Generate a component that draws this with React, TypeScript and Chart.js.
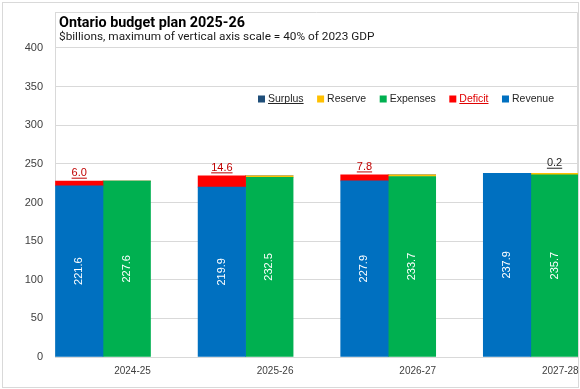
import React, { useEffect, useRef } from 'react';
import { Chart, registerables } from 'chart.js';

Chart.register(...registerables);

// ---- data ----
const categories = ['2024-25', '2025-26', '2026-27', '2027-28'];
const revenue = [221.6, 219.9, 227.9, 237.9];
const deficit = [6.0, 14.6, 7.8, 0];
const expenses = [227.6, 232.5, 233.7, 235.7];
const reserve = [0, 2.0, 2.0, 2.0];
const surplus = [0, 0, 0, 0.2];
const yTicks = [0, 50, 100, 150, 200, 250, 300, 350, 400];

const TITLE = 'Ontario budget plan 2025-26';
const SUBTITLE = '$billions, maximum of vertical axis scale = 40% of 2023 GDP';

const COLORS = {
  revenue: '#0070C0',
  deficit: '#FF0000',
  expenses: '#00B050',
  reserve: '#FFC000',
  surplus: '#1F4E79',
};

const legendItems = [
  { label: 'Surplus', color: COLORS.surplus, text: '#262626', underline: true },
  { label: 'Reserve', color: COLORS.reserve, text: '#262626', underline: false },
  { label: 'Expenses', color: COLORS.expenses, text: '#262626', underline: false },
  { label: 'Deficit', color: COLORS.deficit, text: '#E00000', underline: true },
  { label: 'Revenue', color: COLORS.revenue, text: '#262626', underline: false },
];

const FONT = '"Liberation Sans", Arial, sans-serif';

const toPoints = (arr: number[]) => arr.map((v, i) => ({ x: i, y: v }));

function fitSize(ctx: CanvasRenderingContext2D, text: string, weight: string, family: string, target: number) {
  ctx.font = `${weight} 20px ${family}`;
  const w = ctx.measureText(text).width;
  return (20 * target) / w;
}

const framePlugin = {
  id: 'frame',
  beforeDraw(chart: any) {
    const { ctx, width, height } = chart;
    ctx.save();
    ctx.fillStyle = '#ffffff';
    ctx.fillRect(0, 0, width, height);
    ctx.strokeStyle = '#d9d9d9';
    ctx.lineWidth = 1;
    ctx.strokeRect(2.5, 2.5, width - 4, height - 4);
    ctx.restore();
  },
  beforeDatasetsDraw(chart: any) {
    const { ctx, chartArea } = chart;
    ctx.save();
    ctx.strokeStyle = '#d9d9d9';
    ctx.lineWidth = 1;
    ctx.beginPath();
    ctx.moveTo(chartArea.left, chartArea.top + 0.5);
    ctx.lineTo(chartArea.right - 0.5, chartArea.top + 0.5);
    ctx.lineTo(chartArea.right - 0.5, chartArea.bottom);
    ctx.stroke();
    ctx.restore();
  },
  afterDraw(chart: any) {
    const { ctx, chartArea } = chart;
    ctx.save();
    // title
    const tSize = fitSize(ctx, TITLE, 'bold', 'Roboto', 186);
    ctx.font = `bold ${tSize}px Roboto`;
    ctx.fillStyle = '#000000';
    ctx.textAlign = 'left';
    ctx.textBaseline = 'alphabetic';
    ctx.fillText(TITLE, chartArea.left + 4, chartArea.top + 15);
    const sSize = fitSize(ctx, SUBTITLE, 'normal', 'Roboto', 316);
    ctx.font = `normal ${sSize}px Roboto`;
    ctx.fillStyle = '#1a1a1a';
    ctx.fillText(SUBTITLE, chartArea.left + 4, chartArea.top + 27.5);

    // legend
    ctx.font = `10.5px ${FONT}`;
    let x = 258;
    const baseY = 102;
    for (const it of legendItems) {
      ctx.fillStyle = it.color;
      ctx.fillRect(x, baseY - 6.5, 7, 7);
      x += 10;
      ctx.fillStyle = it.text;
      ctx.fillText(it.label, x, baseY);
      const w = ctx.measureText(it.label).width;
      if (it.underline) {
        ctx.fillRect(x, baseY + 1, w, 1);
      }
      x += w + 13.5;
    }
    ctx.restore();
  },
};

const labelPlugin = {
  id: 'barLabels',
  afterDatasetsDraw(chart: any) {
    const { ctx } = chart;
    ctx.save();
    const inside = [
      { ds: 0, values: revenue },
      { ds: 2, values: expenses },
    ];
    ctx.font = `11px ${FONT}`;
    ctx.fillStyle = '#ffffff';
    ctx.textAlign = 'center';
    ctx.textBaseline = 'middle';
    for (const g of inside) {
      const meta = chart.getDatasetMeta(g.ds);
      meta.data.forEach((bar: any, i: number) => {
        const cx = bar.x;
        const cy = (bar.y + bar.base) / 2;
        ctx.save();
        ctx.translate(cx, cy);
        ctx.rotate(-Math.PI / 2);
        ctx.fillText(g.values[i].toFixed(1), 0, 0);
        ctx.restore();
      });
    }
    const tops = [
      { ds: 1, values: deficit, color: '#C00000', gap: 5 },
      { ds: 4, values: surplus, color: '#262626', gap: 7 },
    ];
    ctx.textBaseline = 'alphabetic';
    for (const g of tops) {
      const meta = chart.getDatasetMeta(g.ds);
      meta.data.forEach((bar: any, i: number) => {
        const v = g.values[i];
        if (!v) return;
        const txt = v.toFixed(1);
        const by = bar.y - g.gap;
        ctx.fillStyle = g.color;
        ctx.fillText(txt, bar.x, by);
        const w = ctx.measureText(txt).width;
        ctx.fillRect(bar.x - w / 2, by + 1.5, w, 1);
      });
    }
    ctx.restore();
  },
};

export default function App() {
  const ref = useRef<HTMLCanvasElement | null>(null);

  useEffect(() => {
    document.body.style.margin = '0';
    document.body.style.overflow = 'hidden';
    if (!ref.current) return;
    Chart.defaults.font.family = FONT;
    const chart = new Chart(ref.current, {
      type: 'bar',
      data: {
        datasets: [
          { label: 'Revenue', data: toPoints(revenue), backgroundColor: COLORS.revenue, stack: 'rev' },
          { label: 'Deficit', data: toPoints(deficit), backgroundColor: COLORS.deficit, stack: 'rev' },
          { label: 'Expenses', data: toPoints(expenses), backgroundColor: COLORS.expenses, stack: 'exp' },
          { label: 'Reserve', data: toPoints(reserve), backgroundColor: COLORS.reserve, stack: 'exp' },
          { label: 'Surplus', data: toPoints(surplus), backgroundColor: COLORS.surplus, stack: 'exp' },
        ] as any,
      },
      options: {
        animation: false,
        responsive: false,
        devicePixelRatio: 1,
        layout: { padding: { top: 12, right: 2, left: 0, bottom: 0 } },
        datasets: { bar: { barThickness: 47.5, borderWidth: 0 } } as any,
        plugins: {
          legend: { display: false },
          tooltip: { enabled: false },
        },
        scales: {
          x: {
            type: 'linear',
            min: -0.3366,
            max: 3.331,
            offset: false,
            stacked: true,
            afterBuildTicks: (s: any) => {
              s.ticks = categories.map((_, i) => ({ value: i }));
            },
            afterFit: (s: any) => {
              s.height = 32;
              s.paddingLeft = 0;
              s.paddingRight = 0;
            },
            grid: { display: false, drawTicks: false, offset: false },
            border: { display: true, color: '#d9d9d9' },
            ticks: {
              callback: (v: any) => categories[v] ?? '',
              labelOffset: 29.5,
              padding: 8,
              autoSkip: false,
              maxRotation: 0,
              color: '#404040',
              font: { size: 10, family: FONT },
            },
          },
          y: {
            min: 0,
            max: 446.6,
            stacked: true,
            afterBuildTicks: (s: any) => {
              s.ticks = yTicks.map((v) => ({ value: v }));
            },
            afterFit: (s: any) => {
              s.width = 55;
              s.paddingTop = 0;
              s.paddingBottom = 0;
            },
            grid: { color: '#d9d9d9', drawTicks: false, lineWidth: 1 },
            border: { display: true, color: '#d9d9d9' },
            ticks: {
              padding: 12,
              color: '#404040',
              font: { size: 11, family: FONT },
            },
          },
        } as any,
      },
      plugins: [framePlugin, labelPlugin],
    });
    return () => chart.destroy();
  }, []);

  return <canvas ref={ref} width={580} height={389} style={{ display: 'block' }} />;
}
